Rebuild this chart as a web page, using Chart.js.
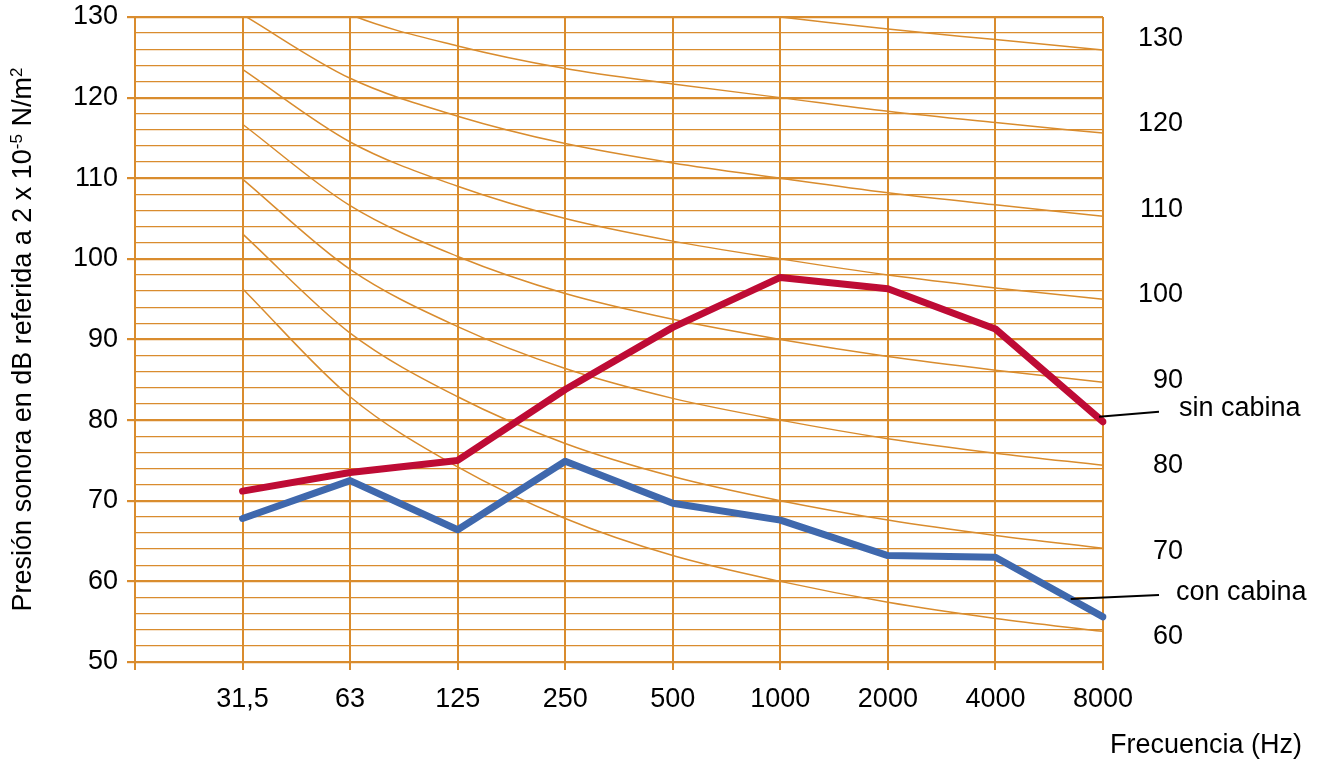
<!DOCTYPE html>
<html>
<head>
<meta charset="utf-8">
<title>Presión sonora</title>
<script src="https://cdn.jsdelivr.net/npm/chart.js@4.4.0/dist/chart.umd.min.js"></script>
<style>
  html, body { margin: 0; padding: 0; background: #fff; }
  #wrap { width: 1322px; height: 760px; position: relative; }
</style>
</head>
<body>
<div id="wrap"><canvas id="chart"></canvas></div>
<script>
const frequencies = ['', '31,5', '63', '125', '250', '500', '1000', '2000', '4000', '8000'];
const sinCabina = [null, 71.2, 73.5, 75.0, 83.8, 91.5, 97.7, 96.3, 91.3, 79.8];
const conCabina = [null, 67.8, 72.5, 66.4, 74.9, 69.7, 67.6, 63.2, 63.0, 55.6];

// curvas NR (lo que pasa de 130 queda recortado)
const nr60  = [null,  96.3,  82.9,  74.2,  67.8,  63.2,  60.0,  57.4,  55.4,  53.8];
const nr70  = [null, 103.1,  90.8,  82.9,  77.1,  73.0,  70.0,  67.6,  65.7,  64.1];
const nr80  = [null, 109.9,  98.7,  91.6,  86.4,  82.7,  80.0,  77.7,  75.9,  74.4];
const nr90  = [null, 116.7, 106.6, 100.3,  95.7,  92.5,  90.0,  87.9,  86.2,  84.7];
const nr100 = [null, 123.5, 114.5, 109.0, 105.0, 102.2, 100.0,  98.0,  96.4,  95.0];
const nr110 = [null, 130.3, 122.4, 117.7, 114.3, 111.9, 110.0, 108.2, 106.7, 105.3];
const nr120 = [null, 137.1, 130.3, 126.4, 123.6, 121.7, 120.0, 118.3, 116.9, 115.6];
const nr130 = [null, 143.9, 138.2, 135.1, 132.9, 131.4, 130.0, 128.5, 127.2, 125.9];

const leftTicks = [50, 60, 70, 80, 90, 100, 110, 120, 130];
const rightTicks = [60, 70, 80, 90, 100, 110, 120, 130];

const orange = '#D98C2E';
const red = '#BE0B35';
const blue = '#3F68AD';
const fontFamily = '"Liberation Sans", Arial, Helvetica, sans-serif';

function nrCurve(data) {
  return {
    data: data,
    borderColor: orange,
    borderWidth: 1.5,
    pointRadius: 0,
    cubicInterpolationMode: 'monotone',
    tension: 0.4
  };
}

function seriesLine(data, color) {
  return {
    data: data,
    borderColor: color,
    borderWidth: 7,
    pointRadius: 0,
    borderCapStyle: 'round',
    borderJoinStyle: 'round',
    tension: 0
  };
}

// the label paddings would push the plot area down, drop them
function noPadding(scale) {
  scale.paddingTop = 0;
  scale.paddingBottom = 0;
}

// textos "sin cabina", "con cabina", titulos de ejes
const labelsPlugin = {
  id: 'labels',
  afterDatasetsDraw(chart) {
    const { ctx, chartArea } = chart;
    const x = chart.scales.x;
    const y = chart.scales.y;
    const last = frequencies.length - 1;

    ctx.save();
    ctx.strokeStyle = '#000';
    ctx.fillStyle = '#000';
    ctx.lineWidth = 2;
    ctx.font = '27px ' + fontFamily;
    ctx.textBaseline = 'middle';

    // sin cabina
    const sx = x.getPixelForValue(last);
    const sy = y.getPixelForValue(sinCabina[last]);
    ctx.beginPath();
    ctx.moveTo(sx - 4, sy - 5);
    ctx.lineTo(chartArea.right + 56, sy - 10);
    ctx.stroke();
    ctx.fillText('sin cabina', chartArea.right + 76, sy - 13);

    // con cabina, la linea sale del tramo 4000-8000
    const ax = x.getPixelForValue(last - 1), ay = y.getPixelForValue(conCabina[last - 1]);
    const bx = x.getPixelForValue(last), by = y.getPixelForValue(conCabina[last]);
    const cx = ax + (bx - ax) * 0.7, cy = ay + (by - ay) * 0.7;
    ctx.beginPath();
    ctx.moveTo(cx, cy);
    ctx.lineTo(chartArea.right + 56, cy - 4);
    ctx.stroke();
    ctx.fillText('con cabina', chartArea.right + 73, cy - 6);

    ctx.textAlign = 'right';
    ctx.fillText('Frecuencia (Hz)', chartArea.right + 199, chartArea.bottom + 84);

    // titulo vertical con superindices
    const parts = [
      { t: 'Presión sonora en dB referida a 2 x 10', size: 27, dy: 0 },
      { t: '-5', size: 17, dy: -9 },
      { t: ' N/m', size: 27, dy: 0 },
      { t: '2', size: 17, dy: -9 }
    ];
    ctx.textAlign = 'left';
    ctx.textBaseline = 'alphabetic';
    let total = 0;
    parts.forEach(p => {
      ctx.font = p.size + 'px ' + fontFamily;
      p.w = ctx.measureText(p.t).width;
      total += p.w;
    });
    ctx.translate(21, (chartArea.top + chartArea.bottom) / 2);
    ctx.rotate(-Math.PI / 2);
    let pos = -total / 2;
    parts.forEach(p => {
      ctx.font = p.size + 'px ' + fontFamily;
      ctx.fillText(p.t, pos, 9.5 + p.dy);
      pos += p.w;
    });
    ctx.restore();
  }
};

const ctx = document.getElementById('chart').getContext('2d');
const chart = new Chart(ctx, {
  type: 'line',
  data: {
    labels: frequencies,
    datasets: [
      seriesLine(sinCabina, red),
      seriesLine(conCabina, blue),
      nrCurve(nr60), nrCurve(nr70), nrCurve(nr80), nrCurve(nr90),
      nrCurve(nr100), nrCurve(nr110), nrCurve(nr120), nrCurve(nr130)
    ]
  },
  options: {
    responsive: true,
    maintainAspectRatio: false,
    animation: false,
    layout: { padding: { top: 17, left: 0, right: 139, bottom: 0 } },
    plugins: {
      legend: { display: false },
      tooltip: { enabled: false }
    },
    scales: {
      x: {
        type: 'category',
        offset: false,
        grid: { color: orange, lineWidth: 2, tickLength: 8, tickColor: orange },
        border: { color: orange, width: 2 },
        ticks: {
          color: '#000',
          font: { family: fontFamily, size: 27 },
          padding: 13,
          maxRotation: 0,
          autoSkip: false
        },
        afterFit(scale) { scale.height = 98; }
      },
      y: {
        position: 'left',
        min: 50,
        max: 130,
        grid: {
          color: orange,
          lineWidth: c => (c.tick && c.tick.value % 10 === 0) ? 2.2 : 1.3,
          tickLength: 8,
          tickColor: c => (c.tick && c.tick.value % 10 === 0) ? orange : 'rgba(0,0,0,0)'
        },
        border: { color: orange, width: 2 },
        ticks: {
          stepSize: 2,
          autoSkip: false,
          color: '#000',
          padding: 9,
          font: { family: fontFamily, size: 27 },
          callback: v => leftTicks.includes(v) ? String(v) : ''
        },
        afterFit(scale) { scale.width = 135; noPadding(scale); }
      },
      y2: {
        position: 'right',
        min: 57.08,
        max: 132.49,
        grid: { display: false, drawOnChartArea: false, drawTicks: false },
        border: { display: false },
        ticks: {
          color: '#000',
          padding: 29,
          crossAlign: 'far',
          font: { family: fontFamily, size: 27 }
        },
        afterBuildTicks(scale) {
          scale.ticks = rightTicks.map(v => ({ value: v }));
        },
        afterFit(scale) { scale.width = 80; noPadding(scale); }
      }
    }
  },
  plugins: [labelsPlugin]
});
</script>
</body>
</html>
